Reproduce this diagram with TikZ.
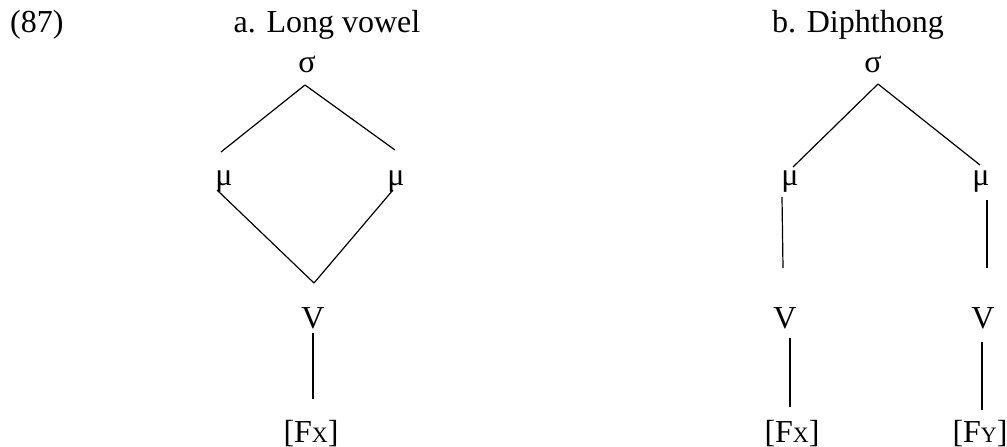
\documentclass[tikz,border=0pt]{standalone}
\usepackage{fontspec}
\setmainfont{Liberation Serif}
\newcommand{\smx}[1]{{\fontsize{22}{24}\selectfont #1}}
\begin{document}
\begin{tikzpicture}[x=1pt,y=-1pt,
  lbl/.style={inner sep=0pt,anchor=base,font=\fontsize{32}{38}\selectfont},
  edge/.style={line width=1.2pt,line cap=butt}]
\path[use as bounding box] (0,0) rectangle (1007,447);
% titles
\node[lbl,anchor=base west] (num) at (10,32) {(87)};
\node[lbl] (ta) at (327,32) {a. Long vowel};
\node[lbl] (tb) at (858,32) {b. Diphthong};
% tree a
\node[lbl] (s1) at (307,72) {σ};
\node[lbl] (m1a) at (224,185) {μ};
\node[lbl] (m1b) at (396,185) {μ};
\node[lbl] (v1) at (313,328) {V};
\node[lbl] (f1) at (311,442) {[F\smx{X}]};
\draw[edge] ([shift={(-2,13)}]s1.base) -- ([shift={(-3,-33)}]m1a.base);
\draw[edge] ([shift={(-2,13)}]s1.base) -- ([shift={(-1,-35)}]m1b.base);
\draw[edge] ([shift={(-7,5)}]m1a.base) -- ([shift={(1,-45)}]v1.base);
\draw[edge] ([shift={(-3,5)}]m1b.base) -- ([shift={(1,-45)}]v1.base);
\draw[edge] ([shift={(0,5)}]v1.base) -- ([shift={(2,-43)}]f1.base);
% tree b
\node[lbl] (s2) at (873,72) {σ};
\node[lbl] (m2a) at (790,185) {μ};
\node[lbl] (m2b) at (981,185) {μ};
\node[lbl] (v2a) at (785,328) {V};
\node[lbl] (v2b) at (983,328) {V};
\node[lbl] (f2a) at (792,442) {[F\smx{X}]};
\node[lbl] (f2b) at (980,442) {[F\smx{Y}]};
\draw[edge] ([shift={(5,12)}]s2.base) -- ([shift={(3,-18)}]m2a.base);
\draw[edge] ([shift={(5,12)}]s2.base) -- ([shift={(-1,-20)}]m2b.base);
\draw[edge] ([shift={(-8,12)}]m2a.base) -- ([shift={(-2,-60)}]v2a.base);
\draw[edge] ([shift={(6,15)}]m2b.base) -- ([shift={(4,-60)}]v2b.base);
\draw[edge] ([shift={(5,10)}]v2a.base) -- ([shift={(-2,-35)}]f2a.base);
\draw[edge] ([shift={(-1,14)}]v2b.base) -- ([shift={(2,-32)}]f2b.base);
\end{tikzpicture}
\end{document}
